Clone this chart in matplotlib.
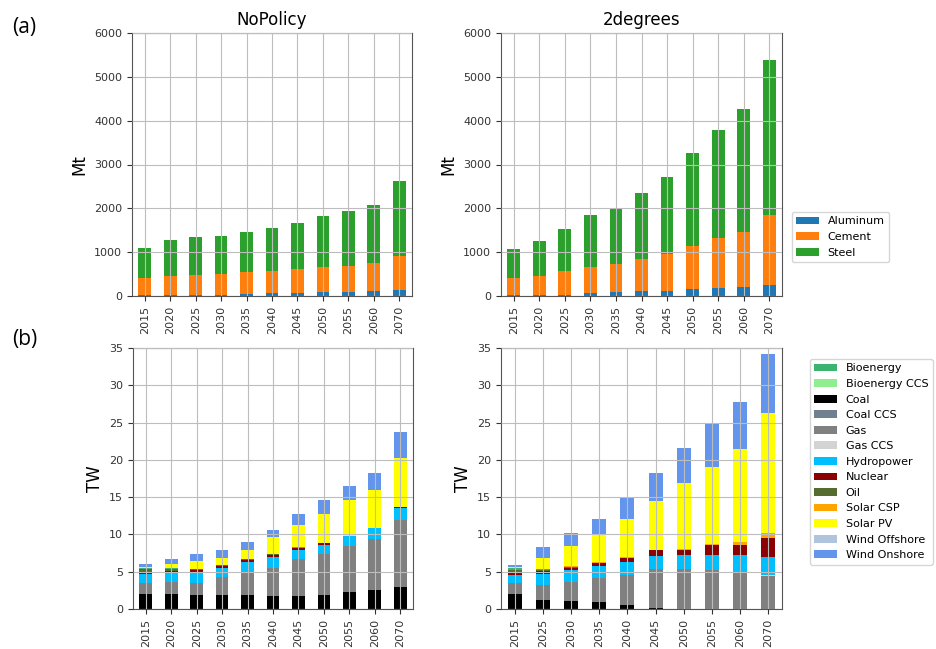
import numpy as np
import matplotlib
matplotlib.use("Agg")
import matplotlib.pyplot as plt

# material demand (Mt), stacked Aluminum / Cement / Steel
mat_years_np = ["2015", "2020", "2025", "2030", "2035", "2040", "2045", "2050", "2055", "2060", "2070"]
mat_years_2d = ["2015", "2020", "2025", "2030", "2035", "2040", "2045", "2050", "2055", "2060", "2070"]

aluminum_np = [25, 28, 30, 30, 35, 60, 65, 90, 95, 115, 146]
cement_np = [387, 430, 460, 482, 507, 505, 553, 574, 592, 633, 769]
steel_np = [673, 810, 853, 861, 908, 977, 1052, 1160, 1258, 1327, 1710]

aluminum_2d = [25, 28, 30, 60, 92, 115, 115, 160, 192, 205, 260]
cement_2d = [386, 429, 534, 595, 648, 730, 853, 982, 1125, 1256, 1589]
steel_2d = [671, 808, 975, 1187, 1278, 1500, 1758, 2109, 2459, 2794, 3532]

materials = ["Aluminum", "Cement", "Steel"]
mat_colors = ["tab:blue", "tab:orange", "tab:green"]

# installed capacity (TW) by technology
cap_years_np = ["2015", "2020", "2025", "2030", "2035", "2040", "2045", "2050", "2055", "2060", "2070"]
cap_years_2d = ["2015", "2025", "2030", "2035", "2040", "2045", "2050", "2055", "2060", "2070"]

cap_np = {
    "Coal":         [2.0, 2.0, 1.9, 1.85, 1.85, 1.7, 1.7, 1.85, 2.3, 2.55, 3.0],
    "Gas":          [1.5, 1.6, 1.65, 2.45, 3.05, 3.8, 4.95, 5.5, 6.1, 6.85, 9.0],
    "Hydropower":   [1.15, 1.3, 1.35, 1.2, 1.35, 1.45, 1.2, 1.25, 1.35, 1.4, 1.6],
    "Nuclear":      [0.3, 0.25, 0.3, 0.3, 0.35, 0.35, 0.3, 0.2, 0.05, 0.05, 0.05],
    "Oil":          [0.35, 0.2, 0.1, 0.1, 0.1, 0.05, 0.05, 0.0, 0.0, 0.0, 0.0],
    "Bioenergy":    [0.2, 0.1, 0.05, 0.05, 0.05, 0.05, 0.05, 0.05, 0.0, 0.0, 0.0],
    "Solar CSP":    [0.05, 0.0, 0.0, 0.0, 0.0, 0.0, 0.0, 0.05, 0.05, 0.05, 0.05],
    "Solar PV":     [0.1, 0.65, 1.05, 0.95, 1.2, 2.3, 3.0, 3.85, 4.7, 5.1, 6.55],
    "Wind Onshore": [0.35, 0.6, 1.0, 1.0, 1.1, 0.9, 1.5, 1.9, 1.9, 2.3, 3.5],
}

cap_2d = {
    "Coal":         [1.95, 1.25, 1.1, 0.95, 0.5, 0.2, 0.0, 0.0, 0.0, 0.0],
    "Gas":          [1.55, 2.0, 2.5, 3.2, 4.1, 5.1, 5.3, 5.2, 4.9, 4.45],
    "Gas CCS":      [0.0, 0.0, 0.0, 0.0, 0.0, 0.0, 0.05, 0.05, 0.05, 0.05],
    "Hydropower":   [1.1, 1.5, 1.6, 1.55, 1.65, 1.85, 1.9, 2.0, 2.3, 2.45],
    "Nuclear":      [0.3, 0.35, 0.3, 0.45, 0.6, 0.7, 0.65, 1.3, 1.35, 2.6],
    "Oil":          [0.35, 0.1, 0.1, 0.05, 0.0, 0.0, 0.0, 0.0, 0.0, 0.0],
    "Bioenergy":    [0.2, 0.1, 0.05, 0.0, 0.0, 0.0, 0.0, 0.0, 0.0, 0.0],
    "Solar CSP":    [0.05, 0.05, 0.1, 0.1, 0.1, 0.1, 0.1, 0.15, 0.4, 0.6],
    "Solar PV":     [0.1, 1.5, 2.65, 3.7, 5.1, 6.5, 8.9, 10.4, 12.5, 16.2],
    "Wind Onshore": [0.35, 1.45, 1.8, 2.1, 2.85, 3.75, 4.7, 5.75, 6.3, 7.8],
}

# bottom-to-top stacking, legend is alphabetical
stack_order = ["Coal", "Coal CCS", "Gas", "Gas CCS", "Hydropower", "Nuclear", "Oil",
               "Bioenergy", "Bioenergy CCS", "Solar CSP", "Solar PV",
               "Wind Offshore", "Wind Onshore"]
tech_colors = {
    "Bioenergy": "mediumseagreen",
    "Bioenergy CCS": "lightgreen",
    "Coal": "black",
    "Coal CCS": "slategray",
    "Gas": "gray",
    "Gas CCS": "lightgray",
    "Hydropower": "deepskyblue",
    "Nuclear": "darkred",
    "Oil": "darkolivegreen",
    "Solar CSP": "orange",
    "Solar PV": "yellow",
    "Wind Offshore": "lightsteelblue",
    "Wind Onshore": "cornflowerblue",
}

plt.rcParams["font.family"] = "DejaVu Sans"

fig = plt.figure(figsize=(9.37, 6.49), dpi=100)
W, H = 937.0, 649.0


def add_ax(x0, y0, x1, y1):
    return fig.add_axes([x0 / W, 1 - y1 / H, (x1 - x0) / W, (y1 - y0) / H])


ax_a1 = add_ax(132, 33, 412, 296)
ax_a2 = add_ax(501, 33, 782, 296)
ax_b1 = add_ax(133, 348, 413, 609)
ax_b2 = add_ax(501, 348, 782, 609)


def style(ax, years):
    ax.set_xlim(-0.5, len(years) - 0.5)
    ax.set_xticks(np.arange(len(years)))
    ax.set_xticklabels(years, rotation=90)
    ax.tick_params(labelsize=8, colors="#333333")
    ax.grid(True, color="#bdbdbd", linewidth=0.8)
    ax.set_axisbelow(False)
    for s in ax.spines.values():
        s.set_color("#555555")


def stack_materials(ax, years, series, title):
    x = np.arange(len(years))
    bottom = np.zeros(len(years))
    bars = []
    for vals, name, c in zip(series, materials, mat_colors):
        b = ax.bar(x, vals, 0.5, bottom=bottom, color=c, label=name, zorder=1)
        bars.append(b)
        bottom += np.array(vals)
    ax.set_ylim(0, 6000)
    ax.set_yticks(range(0, 6001, 1000))
    ax.set_ylabel("Mt", fontsize=12)
    ax.set_title(title, fontsize=12)
    style(ax, years)
    return bars


def stack_capacity(ax, years, data):
    x = np.arange(len(years))
    bottom = np.zeros(len(years))
    handles = {}
    for tech in stack_order:
        vals = np.array(data.get(tech, [0.0] * len(years)))
        handles[tech] = ax.bar(x, vals, 0.5, bottom=bottom, color=tech_colors[tech],
                               label=tech, zorder=1)
        bottom += vals
    ax.set_ylim(0, 35)
    ax.set_yticks(range(0, 36, 5))
    ax.set_ylabel("TW", fontsize=12)
    style(ax, years)
    return handles


stack_materials(ax_a1, mat_years_np, [aluminum_np, cement_np, steel_np], "NoPolicy")
mat_bars = stack_materials(ax_a2, mat_years_2d, [aluminum_2d, cement_2d, steel_2d], "2degrees")
stack_capacity(ax_b1, cap_years_np, cap_np)
cap_handles = stack_capacity(ax_b2, cap_years_2d, cap_2d)

fig.legend(mat_bars, materials, loc="upper left", bbox_to_anchor=(792 / W, 1 - 212 / H),
           bbox_transform=fig.transFigure, borderaxespad=0, fontsize=8)

legend_order = sorted(tech_colors.keys())
fig.legend([cap_handles[t] for t in legend_order], legend_order, loc="upper left",
           bbox_to_anchor=(810 / W, 1 - 359 / H), bbox_transform=fig.transFigure,
           borderaxespad=0, fontsize=8)

fig.text(12 / W, 1 - 27 / H, "(a)", fontsize=15, family="Open Sans", va="center")
fig.text(12 / W, 1 - 340 / H, "(b)", fontsize=15, family="Open Sans", va="center")

fig.savefig("out.png", dpi=100)
